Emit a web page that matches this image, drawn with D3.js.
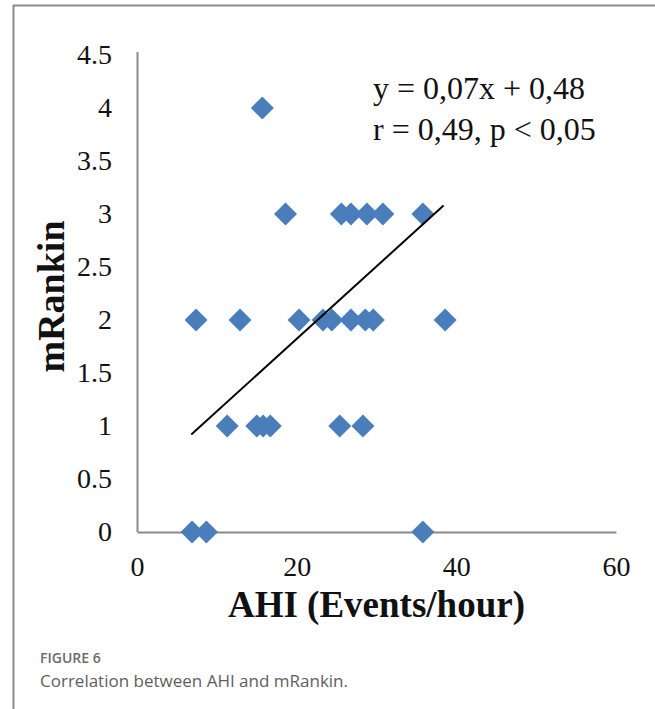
<!DOCTYPE html>
<html>
<head>
<meta charset="utf-8">
<script src="https://cdn.jsdelivr.net/npm/d3@7"></script>
<style>
  html, body { margin: 0; padding: 0; background: #fff; }
  svg { display: block; }
</style>
</head>
<body>
<div id="chart"></div>
<script>
// AHI (x) vs mRankin (y)
const ahiValues = [
  15.7,
  18.6, 25.6, 26.8, 28.8, 30.8, 35.8,
  7.4, 12.9, 20.3, 23.3, 24.4, 26.8, 28.6, 29.6, 38.6,
  11.3, 15.0, 15.8, 16.7, 25.4, 28.3,
  6.9, 8.7, 35.8
];
const mrankinValues = [
  4,
  3, 3, 3, 3, 3, 3,
  2, 2, 2, 2, 2, 2, 2, 2, 2,
  1, 1, 1, 1, 1, 1,
  0, 0, 0
];
const xTicks = [0, 20, 40, 60];
const yTicks = [0, 0.5, 1, 1.5, 2, 2.5, 3, 3.5, 4, 4.5];
// linear fit drawn across the data range
const trendX = [6.8, 38.4];
const trendY = [0.92, 3.08];
const equationLines = ['y = 0,07x + 0,48', 'r = 0,49, p < 0,05'];

const width = 655, height = 709;
const margin = { left: 137, right: 39, top: 55, bottom: 177 };

const svg = d3.select('#chart').append('svg')
  .attr('width', width)
  .attr('height', height);

// figure frame (left and top rules)
svg.append('path')
  .attr('d', `M13.5,${height} L13.5,5.5 L${width},5.5`)
  .attr('fill', 'none')
  .attr('stroke', '#8c8c8c')
  .attr('stroke-width', 2);

const x = d3.scaleLinear().domain([0, 60]).range([margin.left, width - margin.right]);
const y = d3.scaleLinear().domain([0, 4.5]).range([height - margin.bottom, margin.top]);

const serif = '"Liberation Serif", "Times New Roman", serif';

// axes
const xAxis = svg.append('g')
  .attr('transform', `translate(0,${y(0)})`)
  .call(d3.axisBottom(x).tickValues(xTicks).tickSize(0).tickPadding(24));
const yAxis = svg.append('g')
  .attr('transform', `translate(${x(0)},0)`)
  .call(d3.axisLeft(y).tickValues(yTicks).tickSize(0).tickPadding(25)
    .tickFormat(d3.format('')));

[xAxis, yAxis].forEach(g => {
  g.select('.domain').attr('stroke', '#8a8a8a').attr('stroke-width', 2);
  g.selectAll('text')
    .attr('font-family', serif)
    .attr('font-size', 28)
    .attr('fill', '#111');
});
yAxis.select('.domain').attr('d', `M0.5,${y(0)}V${y(4.5) - 3}`);

// axis titles
svg.append('text')
  .attr('x', (x(0) + x(60)) / 2)
  .attr('y', 617)
  .attr('text-anchor', 'middle')
  .attr('font-family', serif)
  .attr('font-weight', 'bold')
  .attr('font-size', 37)
  .attr('fill', '#111')
  .text('AHI (Events/hour)');

svg.append('text')
  .attr('transform', `translate(64,${(y(0) + y(4.5)) / 2 + 3}) rotate(-90)`)
  .attr('text-anchor', 'middle')
  .attr('font-family', serif)
  .attr('font-weight', 'bold')
  .attr('font-size', 38)
  .attr('fill', '#111')
  .text('mRankin');

// points
const pts = ahiValues.map((v, i) => ({ ahi: v, mr: mrankinValues[i] }));
const diamond = d3.symbol().type(d3.symbolSquare).size(265);
svg.append('g').selectAll('path')
  .data(pts)
  .join('path')
  .attr('d', diamond)
  .attr('transform', d => `translate(${x(d.ahi)},${y(d.mr)}) rotate(45)`)
  .attr('fill', '#4a7ebb');

// trend line
const line = d3.line().x(d => x(d[0])).y(d => y(d[1]));
svg.append('path')
  .datum(trendX.map((v, i) => [v, trendY[i]]))
  .attr('d', line)
  .attr('fill', 'none')
  .attr('stroke', '#000')
  .attr('stroke-width', 2);

// equation
svg.append('g').selectAll('text')
  .data(equationLines)
  .join('text')
  .attr('x', 373)
  .attr('y', (d, i) => 99 + i * 41)
  .attr('font-family', serif)
  .attr('font-size', 32)
  .attr('fill', '#111')
  .text(d => d);

// caption
svg.append('text')
  .attr('x', 40)
  .attr('y', 663)
  .attr('font-family', '"Open Sans", sans-serif')
  .attr('font-weight', 600)
  .attr('font-size', 14)
  .attr('fill', '#6a6a6a')
  .text('FIGURE 6');

svg.append('text')
  .attr('x', 40)
  .attr('y', 687)
  .attr('font-family', '"Open Sans", sans-serif')
  .attr('font-size', 17)
  .attr('fill', '#5e5e5e')
  .text('Correlation between AHI and mRankin.');
</script>
</body>
</html>
